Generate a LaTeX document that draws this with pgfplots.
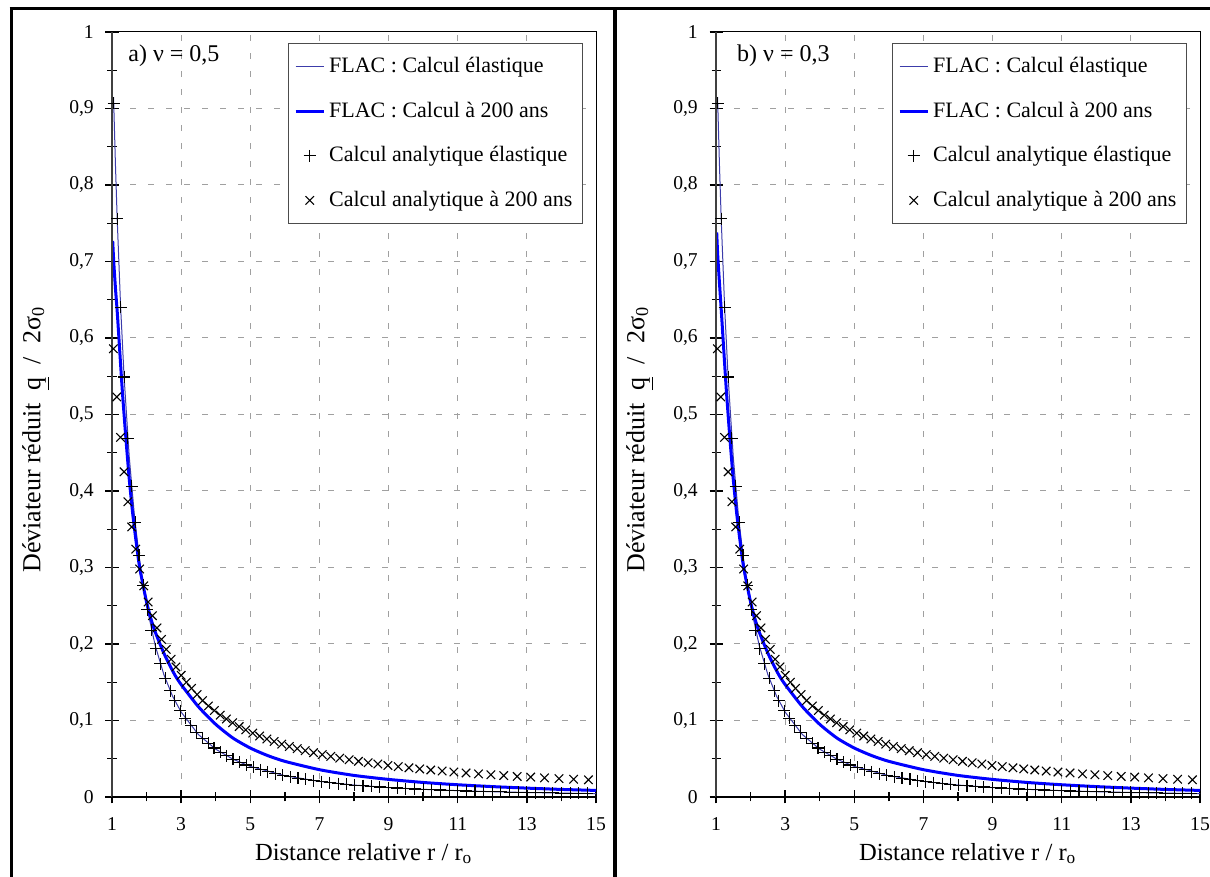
\documentclass[border=0pt]{standalone}
\usepackage{fontspec}
\setmainfont{Liberation Serif}
\usepackage{pgfplots}
\usepackage{pgfplotstable}
\pgfplotsset{compat=1.18}

% Analytical elastic solution (+ marks)
\pgfplotstableread{
r v
1.05 0.907
1.15 0.756
1.25 0.640
1.35 0.549
1.46 0.469
1.57 0.406
1.67 0.359
1.78 0.316
1.90 0.277
2.02 0.245
2.14 0.218
2.27 0.194
2.40 0.174
2.54 0.155
2.68 0.139
2.82 0.126
2.97 0.113
3.12 0.103
3.28 0.093
3.44 0.0845
3.61 0.0767
3.78 0.070
3.95 0.0641
4.13 0.0586
4.31 0.0538
4.50 0.0494
4.69 0.0455
4.89 0.0418
5.09 0.0386
5.30 0.0356
5.51 0.0329
5.72 0.0306
5.94 0.0283
6.16 0.0264
6.38 0.0246
6.61 0.0229
6.84 0.0214
7.07 0.0200
7.30 0.0188
7.54 0.0176
7.78 0.0165
8.02 0.0155
8.26 0.0147
8.50 0.0138
8.75 0.0131
9.00 0.0123
9.25 0.0117
9.50 0.0111
9.75 0.0105
10.00 0.0100
10.25 0.0095
10.50 0.0091
10.75 0.0087
11.00 0.0083
11.25 0.0079
11.50 0.0076
11.75 0.0072
12.00 0.0069
12.25 0.0067
12.50 0.0064
12.75 0.0062
13.00 0.0059
13.25 0.0057
13.50 0.0055
13.75 0.0053
14.00 0.0051
14.25 0.0049
14.50 0.0048
14.75 0.0046
}\elasmarks

% Analytical solution at 200 years (x marks)
\pgfplotstableread{
r v
1.04 0.586
1.14 0.523
1.245 0.470
1.35 0.425
1.46 0.386
1.57 0.353
1.685 0.324
1.80 0.298
1.92 0.276
2.045 0.255
2.17 0.237
2.30 0.221
2.43 0.206
2.57 0.193
2.71 0.180
2.85 0.170
3.00 0.159
3.15 0.150
3.30 0.142
3.46 0.134
3.62 0.126
3.79 0.119
3.96 0.113
4.13 0.107
4.31 0.102
4.49 0.0970
4.68 0.0921
4.87 0.0878
5.07 0.0835
5.27 0.0796
5.48 0.0759
5.69 0.0725
5.91 0.0691
6.13 0.0661
6.36 0.0632
6.59 0.0605
6.83 0.0579
7.08 0.0554
7.33 0.0531
7.59 0.0508
7.86 0.0487
8.13 0.0467
8.41 0.0448
8.69 0.0431
8.98 0.0413
9.28 0.0397
9.59 0.0382
9.90 0.0367
10.22 0.0353
10.55 0.0339
10.89 0.0326
11.24 0.0314
11.60 0.0302
11.96 0.0291
12.33 0.0280
12.72 0.0269
13.11 0.0260
13.51 0.0250
13.93 0.0241
14.35 0.0232
14.78 0.0224
}\viscmarks

% FLAC elastic (thin line)
\pgfplotstableread{
r v
1.045 0.915
1.10 0.826
1.15 0.756
1.25 0.640
1.35 0.549
1.50 0.444
1.65 0.367
1.80 0.309
2.00 0.250
2.25 0.198
2.50 0.160
2.75 0.132
3.00 0.111
3.50 0.0816
4.00 0.0625
4.50 0.0494
5.00 0.040
6.00 0.0278
7.00 0.0204
8.00 0.0156
9.00 0.0123
10.0 0.0100
11.0 0.0083
12.0 0.0069
13.0 0.0059
14.0 0.0051
15.0 0.0044
}\flacel

% FLAC 200 years, nu = 0.5
\pgfplotstableread{
r v
1.02 0.727
1.05 0.700
1.10 0.665
1.15 0.635
1.20 0.600
1.30 0.530
1.40 0.470
1.50 0.415
1.60 0.370
1.70 0.333
1.80 0.300
2.00 0.255
2.20 0.222
2.50 0.188
2.80 0.161
3.00 0.147
3.50 0.118
4.00 0.095
4.50 0.077
5.00 0.064
5.50 0.0542
6.00 0.0466
7.00 0.0357
8.00 0.0282
9.00 0.0230
10.0 0.0190
11.0 0.0160
12.0 0.0136
13.0 0.0116
14.0 0.0099
15.0 0.0086
}\flacva

% FLAC 200 years, nu = 0.3
\pgfplotstableread{
r v
1.02 0.738
1.05 0.708
1.10 0.672
1.15 0.638
1.20 0.602
1.30 0.531
1.40 0.470
1.50 0.415
1.60 0.370
1.70 0.333
1.80 0.300
2.00 0.255
2.20 0.222
2.50 0.188
2.80 0.161
3.00 0.147
3.50 0.118
4.00 0.095
4.50 0.077
5.00 0.064
5.50 0.0542
6.00 0.0466
7.00 0.0357
8.00 0.0282
9.00 0.0230
10.0 0.0190
11.0 0.0160
12.0 0.0136
13.0 0.0116
14.0 0.0099
15.0 0.0086
}\flacvb

\definecolor{thinblue}{RGB}{60,60,170}
\definecolor{gridgray}{RGB}{160,160,160}

\pgfplotsset{
  panel/.style={
    scale only axis, width=242pt, height=382.5pt,
    anchor=south west,
    xmin=1, xmax=15, ymin=0, ymax=1,
    xtick={1,3,5,7,9,11,13,15},
    ytick={0,0.1,0.2,0.3,0.4,0.5,0.6,0.7,0.8,0.9,1},
    minor x tick num=1, minor y tick num=1,
    xtick pos=bottom, ytick pos=left,
    tick align=center, major tick length=6.5pt, minor tick length=4.5pt,
    tick style={black, line width=0.7pt},
    xmajorgrids, ymajorgrids,
    major grid style={gridgray, line width=0.5pt, dash pattern=on 3pt off 6pt},
    axis line style={line width=0.5pt},
    clip=false,
    /pgf/number format/.cd, use comma, assume math mode=true, /pgfplots/.cd,
    ticklabel style={font=\fontsize{9.8}{11}\selectfont},
    xticklabel style={yshift=-3pt},
    yticklabel style={xshift=-2pt},
    xlabel={Distance relative r / r\textsubscript{o}},
    ylabel={Déviateur réduit \ \underline{q} \ / \ 2σ\textsubscript{0}},
    xlabel style={font=\fontsize{12.3}{14}\selectfont, at={(axis description cs:0.52,-0.0824)}, anchor=base},
    ylabel style={font=\fontsize{13}{15}\selectfont, at={(axis description cs:-0.157,0.467)}, anchor=center},
    legend style={at={(0.973,0.986)}, anchor=north east, draw=black!70, line width=0.6pt,
      font=\fontsize{11}{13}\selectfont, row sep=9pt, inner xsep=3pt, inner ysep=5pt,
      cells={anchor=west}},
    legend image code/.code={\draw[mark repeat=2,mark phase=2,#1] plot coordinates {(0pt,0pt) (7pt,0pt) (14pt,0pt)};},
    elasline/.style={thinblue, line width=0.5pt, no marks},
    viscline/.style={blue, line width=1.5pt, no marks, smooth, tension=0.4},
    plusmk/.style={only marks, mark=+, mark size=3pt, black, mark options={line width=0.55pt}},
    crossmk/.style={only marks, mark=x, mark size=3pt, black, mark options={line width=0.55pt}},
  }
}

\begin{document}
\fontsize{11}{13}\selectfont
\begin{tikzpicture}
\useasboundingbox (0,0) rectangle (605pt,438.5pt);

\begin{axis}[panel, at={(56pt,40pt)}]
  \addplot[elasline] table[x=r,y=v] {\flacel};
  \addlegendentry{FLAC : Calcul élastique}
  \addplot[viscline] table[x=r,y=v] {\flacva};
  \addlegendentry{FLAC : Calcul à 200 ans}
  \addplot[plusmk] table[x=r,y=v] {\elasmarks};
  \addlegendentry{Calcul analytique élastique}
  \addplot[crossmk] table[x=r,y=v] {\viscmarks};
  \addlegendentry{Calcul analytique à 200 ans}
  \draw[line width=1pt, black!75] (rel axis cs:0,0) -- (rel axis cs:0,1);
  \draw[line width=1pt, black] (rel axis cs:0,0) -- (rel axis cs:1,0);
  \node[anchor=base west, inner sep=0pt, font=\fontsize{12}{14}\selectfont] at (rel axis cs:0.033,0.961) {a) ν = 0,5};
\end{axis}

\begin{axis}[panel, at={(358pt,40pt)}]
  \addplot[elasline] table[x=r,y=v] {\flacel};
  \addlegendentry{FLAC : Calcul élastique}
  \addplot[viscline] table[x=r,y=v] {\flacvb};
  \addlegendentry{FLAC : Calcul à 200 ans}
  \addplot[plusmk] table[x=r,y=v] {\elasmarks};
  \addlegendentry{Calcul analytique élastique}
  \addplot[crossmk] table[x=r,y=v] {\viscmarks};
  \addlegendentry{Calcul analytique à 200 ans}
  \draw[line width=1pt, black!75] (rel axis cs:0,0) -- (rel axis cs:0,1);
  \draw[line width=1pt, black] (rel axis cs:0,0) -- (rel axis cs:1,0);
  \node[anchor=base west, inner sep=0pt, font=\fontsize{12}{14}\selectfont] at (rel axis cs:0.043,0.961) {b) ν = 0,3};
\end{axis}

% outer frame (table borders)
\draw[line width=1.5pt] (5.5pt,0pt) -- (5.5pt,434pt);
\draw[line width=1.5pt] (4.75pt,434pt) -- (605pt,434pt);
\draw[line width=2pt] (307.5pt,0pt) -- (307.5pt,434pt);
\end{tikzpicture}
\end{document}
